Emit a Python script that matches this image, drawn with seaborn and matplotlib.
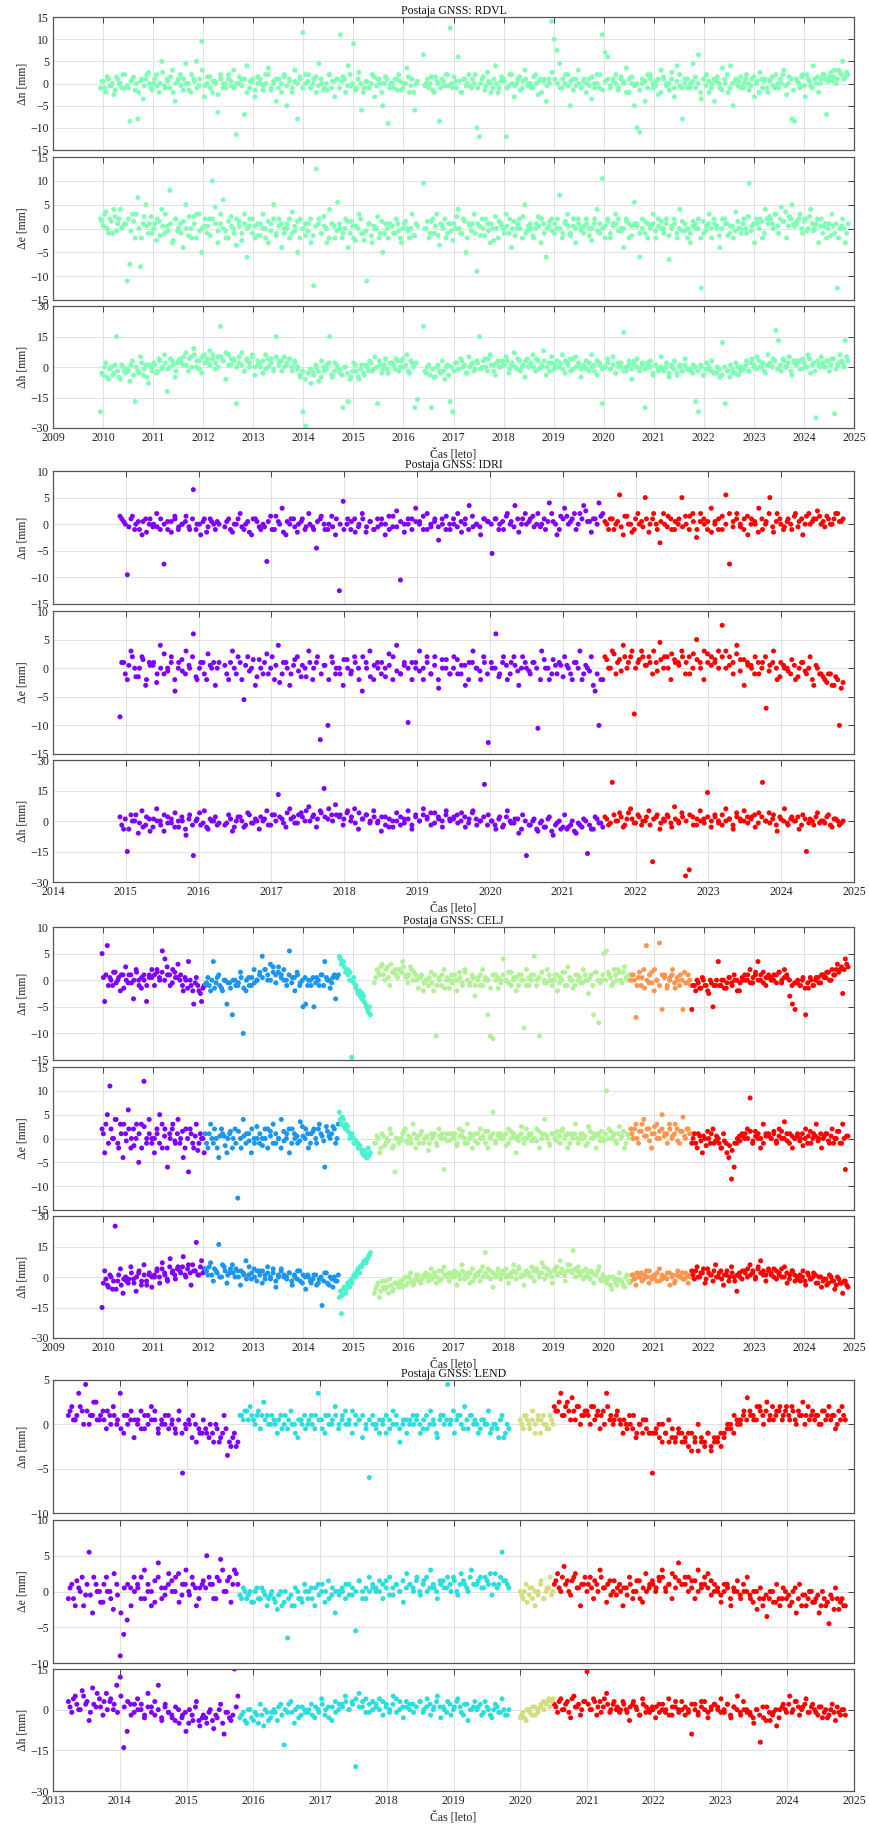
import numpy as np
import pandas as pd
import seaborn as sns
import matplotlib.pyplot as plt

# two epoch sets per segment (set 1 with outliers, set 2 core of the cloud)

# ---------------- RDVL ----------------
rdvl_spans = [(2009.95, 2016.28), (2016.40, 2024.88)]
rdvl_colors = ["#80FFB4", "#80FFB4"]
rdvl_years = (2009, 2025)
rdvl_ylims = [(-15, 15), (-15, 15), (-30, 30)]
rdvl_ysteps = [5, 5, 15]
rdvl_n = [
    [-1, 0.5, -2, 1, -0.5, -2.5, 1.5, 0, -1, 2,
     -0.5, -8.5, 1, -1.5, -8, 0.5, -3.5, 1, 2.5, -1,
     0, 2, -2, 5, -0.5, 1, -1, 3, -4, 0.5,
     2, -1.5, 4.5, 0, -2, 1, 5, -0.5, 9.5, -3,
     0, 1.5, -2, 0.5, -6.5, 2, -1, 0, 1, -0.5,
     3, -11.5, 0, 1, -7, 4, -1, 0.5, -3, 1.5,
     0, -1.5, 2, 3.5, -1, 0, -4, 1, -2, 2,
     -5, 0.5, -1, 3, -8, 1, 11.5, 0, 2, -1,
     1, -2, 4.5, 0, -1, -1.5, 2, 0.5, -3, 1,
     11, 1.5, -2, 4, -0.5, 9, -1, 2.5, -6, -1,
     0.5, -1, 2, -3, 1, 0, -5, 1.5, -9, 0,
     -1, 1, 2, -1.5, 0, 3.5, -2, 1, -6, 0.5],
    [6.5, 0, -1, 1.5, -2, 0.5, -8.5, 1, -0.5, 2,
     12.5, -1, 0.5, 6, -2, 1, -0.5, 2, -1, 0,
     -10, -12, 1, -1.5, 2.5, 0, -1, 4, -2, 0.5,
     1, -12, -0.5, 2, -3, 0, 1.5, -1, 3, -0.5,
     0, -1, 2, -2.5, 1, 0.5, -4, 1, 14, 10,
     7.5, 4.5, -1, 0, 2, -5, 1, -0.5, 3, -1,
     0.5, -2, 1, -3.5, 0, 2, -1, 11, 7, 6,
     -1, 0.5, 2, -1.5, 1, 0, 3.5, -2, 1.5, -5,
     -10, -11, 0, -4, 2, 1, -1, 0.5, -2.5, 3,
     1, 0, -1.5, 2.5, -3, 4, -0.5, -8, 1, -1,
     0, 4.5, -1, 6.5, -3.5, 1, 2, -2, 0, -4,
     1.5, -1, 3.5, 0, -2, 4, -5, 1, 0.5, -1,
     0, 2, -1.5, 1, -3, 0.5, 2.5, -1, 1, -2,
     1, -0.5, 2, -1, 0, 3, -2.5, 1.5, -8, -8.5,
     0.5, -1, 2, -3, 1, -0.5, 4, 0, -2, 1,
     2, -7, 1.5, 0.5, 3, 1, 2.5, 5, 1.5, 2],
]
rdvl_n2 = [
    [0.5, -1, 1.5, -0.5, 0, -1.5, 1, 0, 2, -1,
     -1, 0.5, 1.5, 0, -2, 1, -0.5, 2, 0, -1.5,
     1, -0.5, 0, 2.5, -1, 0.5, 1.5, -2, 0, 1,
     -0.5, 1, 0, -1.5, 2, 0.5, -1, 1, 3, -0.5,
     1.5, -1, 0.5, 0, -2.5, 1, 0, -1, 2, 0.5,
     -1, 0, 1.5, -0.5, 1, -2, 0.5, 1, -1.5, 0,
     1, -0.5, 0, 2, -1.5, 0.5, 1, -1, 0, 1.5,
     -0.5, 1, -2, 0.5, 0, 1.5, -1, 2, 0.5, -1,
     0, 1.5, -0.5, 1, -1.5, 0, 2, -1, 0.5, 1,
     -1, 0.5, 1, -0.5, 2, 0, -1.5, 1, 0, -2,
     0.5, -1, 0, 1.5, -0.5, 1, -2, 0, 1, -1,
     0, 1, -1.5, 0.5, -1, 0, 1.5, -0.5, -2, 0],
    [-0.5, 1, 0, -1.5, 1.5, 0, -1, 0.5, 2, -0.5,
     0, 1.5, -1, 0.5, -2, 1, 0, -0.5, 1, 2,
     -1, 0, 1.5, -0.5, 0.5, -2, 1, 0, -1, 1.5,
     0.5, -1, 2, 0, -0.5, 1, -1.5, 0.5, 1, 0,
     -1, 1.5, 0, 0.5, -2, 1, -0.5, 0, 2.5, 1,
     0, -1, 1, 2, -0.5, 0.5, -1.5, 1, 0, -1,
     1, 0, -0.5, 1.5, -1, 0, 2, -1.5, 0.5, 1,
     -0.5, 1, 0, -1, 1.5, 0.5, -2, 1, 0, -0.5,
     0, -1.5, 1, 0.5, -1, 2, 0, -0.5, 1, -2,
     1.5, -0.5, 0, 1, -1, 0.5, 2, -1, 0, 1,
     -1, 0.5, 1.5, 0, -2, 1, -0.5, 0.5, -1, 1,
     0.5, 0, -1.5, 1, 2, -1, 0, 0.5, -0.5, 1.5,
     -1, 1, 0, -0.5, 1.5, 0, -2, 1, 0.5, -1,
     0.5, 1.5, -1, 0, 1, 2, -0.5, 0, 1, -1.5,
     1, 0, 1.5, -0.5, 2, 0.5, -1, 1, 1.5, 0,
     2, 1, 0.5, 2.5, 1.5, 0, 3, 2, 1, 2.5],
]
rdvl_e = [
    [2, 0.5, 3.5, -1, 1.5, 4, -0.5, 2, 0, 1,
     -11, -7.5, 3, -2, 6.5, -8, 1, 5, -1, 2.5,
     0, -2.5, 1.5, 4, -1, 0.5, 8, -3, 2, -0.5,
     1, -4, 5, -1.5, 0, 2.5, -2, 3, -5, 0.5,
     -1, 2, 10, 4.5, -3, 1, 6, -0.5, -2, 2.5,
     0, -3.5, 1.5, -1, 3, -6, 0.5, 2, -2, 1,
     -1.5, 3, 0, -3, 1, 5, -1, 2, -4, 0,
     1, -2, 3.5, -0.5, -5, 2, 0, -1.5, 1, -3,
     -12, 12.5, 2, -1, 0.5, -3, 4, 1, -2, 5.5,
     0, -1, 2, -4, 1.5, -2, 0.5, 3, -1, -2.5,
     -11, 1, -3, 0, 2.5, -1, -5, 1, -2, 0.5,
     -1, 2, -0.5, -3, 1, 0, -2, 3, -1.5, 0.5],
    [9.5, 0, -2, 1.5, -1, 3, -3.5, 0.5, 2, -1,
     1, -2.5, 0, 4, -1, 2, -5, 1, -0.5, 3,
     -9, 0.5, 2, -1.5, 1, -3, 0, 2.5, -2, 1,
     0, 3, -1, -4, 1.5, 0, 2, -2, 5, -0.5,
     1, -1.5, 0, 2.5, -3, 1, -6, 0.5, 2, -1,
     0, 7, -2, 1, 3, -1, 0.5, -3, 2, 0,
     -1, 2, 0, -2.5, 1, 4, -1, 10.5, 0.5, 2,
     -2, 1, 3, -0.5, 0, -4, 2, 1, -1.5, 5.5,
     0.5, -6, 2, -1, 1, 0, 3, -2, 0.5, 1.5,
     -1, 2, -6.5, 0, 1, -2, 4, -0.5, 1, 0,
     -3, 1.5, 0, 2, -12.5, -1, 0.5, 3, -2, 1,
     0, -4, 2, 1, -1.5, 0.5, -2, 3.5, 0, -1,
     2, -1, 9.5, 0.5, -3, 1, 2, -2, 4, 1,
     2, 0, 3, -1, 4.5, 1.5, -2, 2.5, 5, 0.5,
     1.5, 3, -1, 2, 0, 4, -0.5, 1, -3, 2,
     0.5, -2, 1, 3, -1, -12.5, 0, 2, -3, 1],
]
rdvl_e2 = [
    [1.5, 3, 0, 2, -1, 2.5, 1, 4, 0.5, 1,
     2, -0.5, 1.5, 3, 0, -2, 2.5, 0.5, 1, -1,
     1, 2, -1.5, 0.5, 3, -0.5, 1, -2.5, 2, 0,
     -1, 1.5, 0, 2.5, -2, 1, 3, -0.5, 0, 2,
     0.5, -1.5, 2, 1, -0.5, 3, 0, -2, 1.5, 0.5,
     -1, 2, 0.5, -2.5, 1, 0, 2, -1, 0.5, -1.5,
     1, 0, -2, 1.5, -0.5, 2, -1.5, 0.5, 1, -1,
     0, 2, -1, 0.5, 1.5, -2, 0, 1, -0.5, 2,
     -1.5, 0.5, 1, -1, 2.5, 0, -2, 1, 0.5, -0.5,
     1, -2, 0, 1.5, -1, 0.5, -2.5, 0, 2, -1,
     -0.5, 1, -1.5, 0.5, 0, -2, 1.5, -1, 0, 1,
     0.5, -1, 1, -2, 0, 1.5, -0.5, 0, -1.5, 1],
    [0, 1.5, -1, 2, 0.5, -1.5, 1, 0, -2, 1,
     -0.5, 1, 2.5, 0, -1, 1.5, -2, 0.5, 1, -1,
     1, -1.5, 0, 2, -0.5, 1, -2.5, 0, 1.5, 0.5,
     -1, 0.5, 2, 0, -1.5, 1, 0, 2.5, -1, 0.5,
     0, -2, 1, 0.5, 2, -1, 0, 1.5, -0.5, 1,
     2, 0, -1, 1.5, 0.5, -1.5, 2, 0, 1, -0.5,
     0.5, 1, -1.5, 0, 2, -0.5, 1, 0, -2, 1.5,
     -1, 0.5, 1, 2, -0.5, 0, 1.5, -2, 0.5, 1,
     1, -1, 0, 1.5, -2, 0.5, 1, -0.5, 2, 0,
     0, 1, -1.5, 0.5, 2, -1, 0, 1.5, -0.5, -2,
     -1, 0.5, 1, 0, -2, 1.5, -0.5, 1, 0, 2,
     0.5, -1.5, 0, 2, 1, -1, 0.5, -0.5, 1.5, 0,
     1, 0, 2.5, -0.5, 1, 2, 0, 1.5, -1, 2,
     2.5, 1, 3, 0.5, 2, 1.5, 3.5, 0.5, 2, 1,
     1, 2, 0, 1.5, -0.5, 2.5, 1, 0, 2, 0.5,
     -1, 1, 0, -1.5, 0.5, 1, -2, 0.5, 0, -1],
]
rdvl_h = [
    [-22, -4, 2, -6, 0, -3, 15, -5, 1, -2,
     -1, -7, 3, -17, -2, 5, -4, 1, -8, 0,
     2, -3, 4, -1, 6, -12, 0, 3, -5, 2,
     4, 1, 7, -2, 5, 9, 0, 3, -3, 6,
     2, 8, 4, -1, 5, 20, 3, -6, 6, 1,
     4, -18, 2, 7, -2, 3, 0, 5, -4, 1,
     2, -3, 6, 0, 4, -1, 15, 3, -2, 5,
     1, 4, -2, 2, 0, -5, -22, -29, -3, -8,
     -4, 0, -7, 3, -2, 1, 15, -5, 2, -1,
     -3, -20, 0, -17, -5, 2, -2, -6, 1, -4,
     0, 3, -2, 5, -18, 1, -1, 4, -3, 2,
     1, 4, -2, 3, 0, 6, -3, 2, -20, -16],
    [20, -3, 1, -20, -5, 0, -2, 3, -6, 1,
     -17, -22, 2, -1, 4, 0, -3, 5, 1, -2,
     3, 15, 0, 4, -2, 6, 1, -4, 3, 0,
     2, 5, -3, 1, 7, -1, 3, 0, -5, 4,
     1, 6, -2, 3, 0, 8, -4, 2, 5, -1,
     3, 0, 6, -3, 2, 4, -1, 5, 1, -5,
     0, 3, -2, 6, 1, -4, 2, -18, 0, 4,
     -1, 5, -3, 2, 0, 17, -2, 3, -6, 1,
     4, -1, 2, -20, 0, 3, -4, 1, -2, 5,
     -1, 2, -5, 0, 3, -3, 1, -2, 4, -1,
     -2, 1, -17, -22, 0, -4, 2, -1, 3, -3,
     0, -5, 12, -18, -2, 1, -3, 2, -4, 0,
     -1, 3, -2, 4, 1, 5, 0, 2, -3, 6,
     1, 4, 18, 13, -2, 3, 0, 5, -4, 2,
     3, -1, 4, 0, 6, -3, 2, -25, 1, 5,
     0, 3, -2, 4, -23, 1, 6, 2, 13, 3],
]
rdvl_h2 = [
    [-3, 0, -5, -1, -4, 1, -2, -6, 0, -3,
     -2, 1, -4, 0, -3, 2, -1, -5, 1, -2,
     1, -2, 3, 0, 2, -1, 4, 1, -2, 3,
     2, 5, 1, 4, 0, 6, 3, -1, 5, 2,
     4, 1, 6, 2, 0, 5, 3, 7, 1, 4,
     3, 0, 5, 1, -2, 4, 2, 6, 0, 3,
     0, 3, -1, 4, 2, -2, 5, 1, 3, 0,
     2, 4, 0, 3, -1, -4, -2, -6, -3, -1,
     -3, 1, -2, -5, 0, -1, 2, -4, -2, 1,
     -1, -4, 0, -3, -6, -2, 1, -5, -1, -3,
     1, -2, 2, -1, 0, 3, -3, 1, -1, 2,
     2, -1, 3, 0, 4, 1, -2, 3, 0, 2],
    [-2, 0, -4, -1, -5, 1, -3, -2, 0, -4,
     0, -2, 2, -1, 3, 1, -3, 0, 2, -1,
     2, -1, 3, 0, 4, 1, -2, 2, 0, 3,
     1, 3, -1, 2, 0, 4, -2, 1, 3, 0,
     2, 0, 4, -1, 1, 3, 0, -2, 2, 1,
     0, 2, -1, 3, 1, -2, 4, 0, 2, -1,
     1, -1, 2, 0, -2, 3, 1, -1, 0, 2,
     -1, 1, -3, 0, 2, -2, 0, 1, -1, 3,
     0, -2, 1, -1, 2, 0, -3, 1, -1, 0,
     -2, 0, -3, 1, -1, -4, 0, -2, 1, -1,
     -1, -3, 0, -2, 1, -4, -1, 0, -2, -3,
     -3, -1, -4, 0, -2, -5, -1, -3, 0, -2,
     -1, 1, -2, 2, 0, -1, 3, 0, -2, 1,
     2, 0, 3, -1, 1, 4, 0, 2, -2, 3,
     1, 3, -1, 2, 0, 4, 1, -2, 3, 0,
     2, 0, 3, 1, 4, -1, 2, 3, 0, 5],
]

# ---------------- IDRI ----------------
idri_spans = [(2014.92, 2016.28), (2016.36, 2021.55), (2021.58, 2024.85)]
idri_colors = ["#8000FF", "#8000FF", "#FF0000"]
idri_years = (2014, 2025)
idri_ylims = [(-15, 10), (-15, 10), (-30, 30)]
idri_ysteps = [5, 5, 15]
idri_n = [
    [1.5, 0.5, -9.5, 1, -1, 0.5, -2, 1, 0, -0.5, 2, -1, -7.5, 0.5,
     -1.5, 1, -0.5, 0, 1.5, -1, 6.5, 0, -2, 1, -0.5, 0.5, -1, 0],
    [-0.5, 1, -1.5, 0, 2, -1, 0.5, -2, 1, -0.5,
     0, -7, 1.5, -1, 0.5, 3, -2, 0, 1, -1.5,
     0.5, -1, 2, -0.5, -4.5, 1, 0, -1, 1.5, -2,
     -12.5, 4.3, 0, -1, 1, -0.5, 2, -1.5, 0.5, -1,
     1, 0, -2, 1.5, -0.5, 2.5, -10.5, 0, 1, -1,
     3, 0.5, -1, 2, -0.5, 1, -3, 0, 1.5, -1,
     0, 2, -1.5, 1, 3.5, -0.5, 0, -2, 1, 0.5,
     -5.5, 1, 0, -1, 2, 0.5, 3.5, -1.5, 1, 0,
     1, -0.5, 2, 0, -1, 4, 0.5, -2, 1.5, 3,
     0, 1, -1, 2, 3.5, 0.5, -1.5, 1, 4, 2],
    [0.5, -1, 1, 0, 5.5, -2, 1.5, 0, -1, 2,
     0.5, 5, -1.5, 1, 0, -3.5, 2, -0.5, 1, -1,
     0, 5, 1.5, -1, 2, -2.5, 0.5, 1, -1, 3,
     0, -1, 1.5, 5.5, -7.5, 0.5, 2, -0.5, 1, -2,
     1, 0, 3, -1, 0.5, 5, -1.5, 2, 0, -0.5,
     1, -1, 2, 0.5, -2, 1.5, 0, 1, 2.5, 0,
     -0.5, 1, 0, 2, 0.5, 1],
]
idri_n2 = [
    [1, 0, -0.5, 1.5, 0, -1, 0.5, -1.5, 1, 0, -0.5, 1, 0, -1,
     0.5, 1.5, -1, 0, 0.5, -0.5, 1, -1, 0, 0.5, -1.5, 1, 0, 0.5],
    [0.5, -1, 0, 1, -0.5, 0, -1.5, 1, 0.5, -1,
     -0.5, 0.5, -1, 1.5, 0, -1.5, 0.5, 1, -0.5, 0,
     1, -0.5, 0, -1, 0.5, 1.5, -1, 0, -0.5, 1,
     0, -1, 1, 0.5, -1.5, 0, 1, -0.5, 0.5, -1,
     -0.5, 1, 0, -1, 1.5, -0.5, 0.5, -1.5, 0, 1,
     0.5, 0, 1.5, -1, 0, 0.5, -0.5, 1, -1, 0,
     1, -0.5, 0.5, 0, -1, 1.5, 0, -0.5, 1, 0.5,
     0, 1, -1, 0.5, 1.5, 0, -0.5, 1, 0, 2,
     0.5, 1.5, 0, -0.5, 1, 0.5, 2, 0, -1, 1,
     1.5, 0.5, 2, 0, 1, 2.5, 0.5, 1, 0, 1.5],
    [0, 1, -1, 0.5, -0.5, 1.5, 0, -1.5, 1, 0,
     -0.5, 1, 0, 2, -1, 0.5, 0, 1.5, -1, 0.5,
     1, -0.5, 0, 1.5, 0.5, -1, 2, 0, 0.5, -1.5,
     0.5, 1, -1, 0, 2, -0.5, 1, 0, -1, 1.5,
     0, 0.5, -1.5, 1, 0, 2, -0.5, 0.5, 1, -1,
     0.5, 0, 1.5, -0.5, 1, 0, 2, 0.5, 1, 1.5,
     0.5, 1.5, 0, 1, 2, 0.5],
]
idri_e = [
    [-8.5, 1, -2, 3, 0, -1.5, 2, -3, 1, 0.5, -2.5, 4, -1, 0,
     2, -4, 1, -0.5, 3, 0, 6, -2, 1, -1, 2.5, 0, -3, 1],
    [0.5, -2, 3, -1, 1, -5.5, 2, 0, -3, 1.5,
     -1, 2.5, 0, -2, 4, -1, 1, -3, 0.5, 2,
     -1.5, 0, 3, -2, 1, -12.5, 0.5, -10, 2, -1,
     0, -3, 1.5, -1, 2, 0, -4, 1, 3, -2,
     1, -1, 0, 2.5, -2, 4, -1, 0.5, -9.5, 1,
     0, 3, -2, 1, -1, 2, -3.5, 0, 1.5, -1,
     2, -1, 0.5, -3, 1, 3, 0, -2, 1, -13,
     0, 6, -1, 2, -2, 1, 0.5, -3, 2, 0,
     -1, 1, -10.5, 3, 0, -2, 1.5, -1, 0.5, 2,
     0, -2, 1, 3, -1, 0, 2, -4, -10, -2],
    [2, 0, 3, -1, 1.5, 4, 0, 2, -8, 1,
     3, 0.5, 2, -1, 1, 4.5, 0, 2, -2, 1.5,
     1, 3, -1, 2, 0, 5, 1, -2, 2.5, 0.5,
     1, 3, 7.5, 0, 2, -1, 4, 1.5, -3, 0.5,
     0, 2, -1, 1, -7, 0.5, 3, -2, 1, 0,
     -0.5, 1.5, -2, 0, 1, -1, 2, -3, 0, -1,
     -2, -1, -3, -1.5, -10, -2.5],
]
idri_e2 = [
    [1, -1, 0.5, 2, -1.5, 0, 1.5, -2, 0.5, 1, -1, 0, 2.5, -0.5,
     1, -2, 0, 1.5, -1, 0.5, 2, -1.5, 0, 1, -2, 0.5, 1, 0],
    [-1, 1, 0, 2, -2, 0.5, -0.5, 1.5, -1.5, 0,
     1, -1, 2, 0.5, -2.5, 1, 0, -1, 1.5, -0.5,
     0.5, -1.5, 1, 0, 2, -1, 0.5, -2, 1, 0,
     -1, 1.5, 0, -0.5, 1, -2, 2, 0, -1.5, 0.5,
     0, 1, -1.5, 0.5, 2, -0.5, -1, 1, 0, -2,
     1, -0.5, 0, 2, -1, 0.5, -2, 1.5, 0, -1,
     0, 1.5, -1, 0.5, -2, 1, 0, -0.5, 2, -1,
     1, 0, -1.5, 1, 0.5, -1, 2, -0.5, 0, 1,
     -0.5, 1, 0, -2, 1.5, 0, -1, 0.5, 1, -1.5,
     0.5, -1, 1, 0, -2, 0.5, -0.5, -3, -1, -2],
    [1.5, 0, 2.5, 1, -0.5, 2, 1, 3, 0, 1.5,
     2, 0.5, 1, 3, -0.5, 1.5, 2, 0, 2.5, 1,
     0.5, 2, 1, -1, 2.5, 1.5, 0, 3, 1, 2,
     1.5, 0, 2, 3, 0.5, 1, 2.5, -0.5, 1.5, 1,
     0.5, -1, 1, 0, 2, -0.5, 1, 0, -1.5, 0.5,
     0, -1, 0.5, -1.5, 1, -0.5, 0, -2, 0.5, -1,
     -1.5, -2.5, -1, -3, -2, -3.5],
]
idri_h = [
    [2, -4, -15, 3, 0, -6, 5, -2, 1, -3, 6, 0, -5, 2,
     -1, 4, -3, 0, -7, 3, -17, 1, -2, 5, -4, 0, 2, -1],
    [-2, 3, -5, 0, 2, -3, 4, -1, 1, -4,
     0, 5, -2, 3, 13, 1, -3, 6, 2, -1,
     4, 0, 7, 2, -3, 5, 16, 1, 3, 8,
     2, -2, 4, 0, 6, -4, 1, 3, -1, 5,
     -1, -5, 2, -3, 0, 4, -2, 1, 5, -4,
     3, 0, 6, 2, -2, 4, 1, -3, 5, 0,
     2, -1, 4, -3, 1, 5, -2, 0, 18, 3,
     0, -4, 2, -2, 5, -1, 1, -6, 3, -17,
     -2, 1, -5, 0, -3, 2, -7, -1, -4, 3,
     -3, 0, -6, -2, 1, -16, -4, 2, -1, -3],
    [2, -2, 19, 0, 4, -3, 1, 6, -1, 3,
     -2, 0, 5, -20, 2, -4, 1, 3, -1, 7,
     0, 4, -27, -24, 2, -2, 5, 1, 14, -3,
     3, 0, -2, 6, 1, -4, 2, 0, 5, -1,
     2, -3, 4, 19, 0, -1, 3, -5, 1, 6,
     -2, 2, 0, -4, 3, -15, 1, -2, 4, 0,
     -1, 3, -3, 1, -2, 0],
]
idri_h2 = [
    [-2, 1, -4, 0, 3, -1, -3, 2, -5, 1, 0, -2, 3, -1,
     1, -3, 0, 2, -4, 1, -2, 0, 4, -1, -3, 1, 0, -2],
    [-1, 1, -3, 2, 0, -2, 3, -1, 0, 2,
     1, -2, 3, 0, 2, -1, 4, 1, -1, 3,
     2, 5, 0, 3, 1, 4, 2, 6, 0, 3,
     3, 1, 5, 2, -1, 4, 1, 3, 0, 2,
     0, 2, -2, 1, -3, 0, 2, -1, 1, -2,
     2, 0, 3, 1, 4, -1, 2, 0, 3, 1,
     1, 3, 0, 2, -1, 4, 1, 0, 2, -2,
     0, -2, 1, -3, 2, 0, -1, 1, -4, 0,
     -2, 0, -4, -1, -3, 1, -5, -2, 0, -3,
     -4, -2, -5, -1, -3, 0, -2, -4, 1, -1],
    [1, -1, 3, 0, 2, -2, 4, 1, -1, 2,
     0, 2, -2, 1, 3, -1, 0, 2, -3, 1,
     -1, 2, 0, 3, -2, 1, 0, -1, 2, 0,
     2, -1, 3, 0, 1, -2, 4, 1, 0, 2,
     1, 3, -1, 2, 0, 4, 1, -2, 2, 0,
     -1, 1, 0, 2, -2, 1, -1, 0, 2, -1,
     0, 2, -2, 1, 0, -1],
]

# ---------------- CELJ ----------------
celj_spans = [(2009.98, 2012.02), (2012.04, 2014.70), (2014.72, 2015.34),
              (2015.42, 2020.52), (2020.54, 2021.74), (2021.76, 2024.88)]
celj_colors = ["#8000FF", "#1996F2", "#4CF2CE", "#B2F296", "#FF964F", "#FF0000"]
celj_years = (2009, 2025)
celj_ylims = [(-15, 10), (-15, 15), (-30, 30)]
celj_ysteps = [5, 5, 15]
celj_n = [
    [5, -4, 6.5, 0.5, -1, 1.5, 0, -2, 1, 2.5,
     -0.5, 1, -3.5, 2, 0, -1.5, 1, -4, 0.5, 2,
     -1, 1.5, 0, 5.5, 4, 1, -1, 2, 0.5, 3,
     1, -2, 0, 3.5, -1, -4.5, 0.5, -2, -4, -1],
    [-1, 0.5, -2, 3.5, -0.5, 1, -1.5, 0, -4.5, -0.5,
     -6.5, 0, -1, 1.5, -10, -2, 0.5, -1, 2, 0,
     1, 4.5, 2, 0, 3, 1.5, -0.5, 2.5, 1, 0,
     -1, 5.5, 0.5, -2, 1, -0.5, -5, -4.5, 0, -1,
     -5, 0.5, -1, 1, 3.5, 0, -1.5, 0.5, -3.5, 1],
    [4.5, 3, 3.5, 1.5, 2, 0, -14.5, 0.5, -1.5, -2, -3, -2.5, -4, -5, -6, -6.5],
    [-0.5, 2, 1, 3, 0, 2.5, -1, 1.5, 2, 0.5,
     2, 3.5, 1, -0.5, 2.5, 0, 1, -1.5, 0.5, -2,
     0, -1, 1.5, -2, -10.5, 0.5, -1, 2, 0, -1.5,
     1, 0, -2, 1.5, -0.5, 2, 0, -1, 1, -3,
     0.5, -1, 2, 0, -6.5, -10.5, -11, 1, -1.5, 0,
     4, 0, 1.5, -1, 0.5, -2, 1, 0, -9, 2,
     -1, 1, 4.5, 0, -10.5, 1.5, -0.5, 2, 0, -1,
     1, -2, 0.5, 1.5, -1, 2.5, 0, -1.5, 1, 0,
     -0.5, 2, 0, -2.5, 1, -6.5, 1.5, -8, 0, 5,
     5.5, 1, -1, 2, 0, 1.5, -0.5, 2.5, 0, 1],
    [0, 1, -7, 0.5, -1, 2, 6.5, -0.5, 1.5, -2, 0, 7,
     -5.5, 1, -1, 0.5, 2, -1.5, 0, 1, -5.5, -0.5, 1, -1],
    [-5.5, -1, 0, -1.5, 0.5, -1, -2, 0, -5, -1,
     3.5, -1, 0, -1.5, 0.5, -0.5, 1, 0, -2, 0.5,
     1, 0, 2, -0.5, 1, 3.5, 0, 1.5, -1, 0.5,
     0, 1, -0.5, 1.5, 0, 2, 0.5, -3, -4.5, -5.5,
     0, -1, 0.5, -6.5, -1.5, 0, -1, 0.5, -0.5, 1,
     0.5, 1.5, 0, 2, 1, 3, 2, -2.5, 4, 2.5],
]
celj_n2 = [
    [0.5, 1, -1, 0, 1.5, -0.5, 0.5, 1, -1.5, 0,
     1, -0.5, 0, 1.5, -1, 0.5, 0, -1, 1, 0.5,
     1, 2, 0.5, 1.5, 0, 2.5, 1, -0.5, 1.5, 0.5,
     0, -1, 0.5, -1.5, 0, -2, -0.5, -1, -2.5, -1.5],
    [-0.5, -1, 0, -1.5, 0.5, -1, -2, 0, -0.5, -1.5,
     0, -1, -0.5, 0.5, -1.5, 0, -1, 0.5, -0.5, 0,
     1.5, 0.5, 2, 1, 0, 2.5, 1, 1.5, 0.5, 2,
     0, 1, -0.5, 0.5, 1.5, -1, 0, 0.5, -1, 0,
     0.5, -0.5, 0, 1, -1, 0.5, 0, -0.5, 1, 0.5],
    [4, 3.5, 2.5, 2, 1, 1.5, 0, -0.5, -1, -2.5, -2, -3.5, -3, -4.5, -5.5, -5],
    [0.5, 1.5, 2.5, 1, 2, 0.5, 3, 1.5, 1, 2,
     1.5, 2.5, 0.5, 1, 2, 1.5, 0, 0.5, 1, -0.5,
     0, 0.5, -0.5, 1, -1, 0, 1, -1.5, 0.5, 0,
     -0.5, 1, 0, 0.5, -1, 1.5, 0, -0.5, 0.5, -1,
     0, 1, -1, 0.5, 0, -1.5, 1, 0, 0.5, -0.5,
     1, 0, -0.5, 1.5, 0, 0.5, -1, 1, 0, -1,
     0.5, 0, 1, -1, 0.5, 1.5, 0, -0.5, 1, 0,
     0, 1, -0.5, 0, 1.5, -1, 0.5, 0, -1, 1,
     0.5, -0.5, 1, 0, 0.5, -1, 1.5, 0, -0.5, 1,
     0, 1.5, 0.5, -0.5, 1, 2, 0, 1.5, 0.5, 1],
    [1, 0, -1, 1.5, 0.5, -1.5, 0, 1, -0.5, 2, 0, -1,
     1, 0.5, -1.5, 0, 1, -0.5, 0.5, -1, 0, 1.5, -0.5, 0],
    [-1, -2, -0.5, -1.5, 0, -1, -2.5, -0.5, -1, 0,
     -1, 0, -1.5, -0.5, 0.5, -1, 0, -2, -0.5, 0,
     0, 1, -0.5, 0.5, 1.5, 0, 1, -0.5, 0.5, 1,
     0.5, 0, 1, 1.5, -0.5, 0.5, 1, 0, -1, -0.5,
     -0.5, -1, 0, -1.5, -0.5, 0.5, -1, 0, 0.5, -0.5,
     1, 0.5, 1.5, 0, 1, 2, 1.5, 2.5, 2, 3],
]
celj_e = [
    [2, -3, 5, 11, 0, 4, -1, 3, -4, 1,
     6, -2, 2, 0, -5, 3, 12, -1, 4, 0,
     -3, 1, 5, -2, 2, -6, 0, 3, -1, 4,
     0, -4, 2, -7, 1, -2, 3, -1, 0, -3],
    [1, -2, 3, -1, 0, -4, 2, 0.5, -3, 1,
     -2, 2, -12.5, 0, 4, -1, 1, -3, 0, 2.5,
     -1, 0, 2, -2, 1.5, 3, -1, 0, 4, -0.5,
     1, -3, 2, 0, -1, 3.5, 0.5, 2, -2, 1,
     2, -1, 3, 0.5, -6, 1.5, 0, 2.5, -1, 3],
    [5.5, 3, 4, 2, 2.5, 0, 1, -1, -0.5, -2, -1.5, -3, -2.5, -4, -2, -3],
    [-1, 0.5, -3, 1, -1.5, 0, 2, -2, -7, 0,
     -0.5, 1, 2, -1, 0, 3, -2, 0.5, 1, -1,
     0, -2.5, 1, 0.5, -1, 2, 0, -6.5, 1, -0.5,
     1, 0, -1.5, 2, 0.5, -1, 3, 0, -2, 1,
     -1, 2, 0, 1.5, -2, 0.5, 5.5, -1, 1, 0,
     0.5, -1.5, 2, 0, 1, -3, 0.5, 2.5, -1, 0,
     1, -0.5, 0, 2, -2, 1, 4, 0, -1.5, 1,
     0, 1.5, -1, 2, 0.5, -2, 1, 0, 3, -1,
     1, 0, -1.5, 2.5, 0, 1, -2, 0.5, 1.5, -0.5,
     10, 2, 0, 1, -1, 2.5, 0.5, -2, 1, 0],
    [2, 0, 3, -1, 1.5, 4, 0.5, 2, -2, 1, 3, 0,
     5, 1, -1, 2, 0.5, 3, -0.5, 1.5, 4.5, 0, 2, 1],
    [-1, 1, -2, 0.5, -3, 0, 1.5, -1, 2, -0.5,
     0, -2, 1, -1, -4, -8.5, -6, -1, 0.5, 1,
     0, 2, 8.5, -1, 1.5, 0, -2, 3, 0.5, 1,
     0, 1.5, -1, 2, 0, 3.5, -0.5, 1, -2, 0,
     1, 0, -1.5, 2, 0.5, -1, 1, 3, 0, -2,
     0.5, 1, -1, 2, 0, 1.5, -1, 3, -6.5, 0.5],
]
celj_e2 = [
    [1, 3, -1, 2, 0, 4, -2, 1, 3, -0.5,
     2, 0, -1.5, 3, 1, -2, 2.5, 0, 1, -1,
     0, 2, -1, 3, 0.5, -2, 1, 2, -0.5, 1,
     -1, 1.5, -2, 0, 2, -1, 0.5, -2.5, 1, 0],
    [-1, 1, 0, 2, -2, 0.5, 1, -1.5, 0, 1.5,
     0, -1, 1.5, -2, 0.5, 1, -0.5, 2, -1, 0,
     1, -1.5, 0, 2, 0.5, -1, 1, 0, -2, 1.5,
     0, 2, -1, 1, 0.5, -0.5, 2.5, 0, 1, -1,
     1.5, 0, 2, 1, -0.5, 2.5, 0.5, 1, 2, 0],
    [4, 4.5, 2.5, 3, 1.5, 1, 0.5, 0, -1, -1, -2, -2.5, -3.5, -3, -4, -3.5],
    [-1, 0, -2, 0.5, -1, -0.5, 1, -1.5, 0, -1,
     0, 1.5, -0.5, 0.5, -1, 1, 0, -1, 1.5, 0,
     0.5, -1, 0, 1, -1.5, 0.5, 1, 0, -0.5, 1,
     0, 1, -1, 0.5, 1.5, 0, -1, 1, 0.5, -0.5,
     1, 0, 0.5, -1, 1.5, 0, 1, -0.5, 0.5, 1,
     0, 1, -1, 1.5, 0.5, 0, -0.5, 1, 0, 2,
     0.5, 1, 0, -0.5, 1.5, 0, 1, 0.5, -1, 1,
     1, -0.5, 0.5, 1.5, 0, 1, -1, 0.5, 1, 0,
     0, 1, 0.5, -1, 1.5, 0, 0.5, 1, -0.5, 0,
     1, 0, 1.5, 0.5, -0.5, 1, 0, 1.5, -1, 0.5],
    [1, 2, 0, 1.5, 3, 0.5, 2, -0.5, 1, 2.5, 0, 1.5,
     2, 0.5, 1, 3, 0, 1, 2, -1, 1.5, 0.5, 2, 1],
    [0, -1, 1, -0.5, 0.5, -1.5, 0, 1, -1, 0.5,
     -1, -2, -0.5, -3, -1.5, -2.5, -1, 0, -0.5, 0.5,
     1, 0, 1.5, -0.5, 0.5, 1, 0, -1, 1, 0.5,
     0, 1, -0.5, 0.5, 1.5, 0, 1, -1, 0.5, 0,
     0.5, -0.5, 1, 0, -1, 1.5, 0, 0.5, -0.5, 1,
     0, 1, -0.5, 0.5, -1, 0, 1.5, -1, 0, 0.5],
]
celj_h = [
    [-15, 3, -4, 1, -6, 25, -2, 4, -8, 0,
     -3, 5, -1, -7, 2, -4, 6, -2, 1, -5,
     0, 4, -3, 7, 1, -2, 9, 3, -1, 5,
     2, 10, 0, 6, -4, 3, 17, 1, 8, 4],
    [4, 1, 7, -2, 3, 16, 0, 5, -3, 2,
     6, 0, 3, -4, 2, 8, 1, -1, 4, -2,
     3, -3, 1, 5, -1, 2, -5, 0, 4, 1,
     -1, 2, -4, 0, 3, -2, 1, -6, 0, -3,
     1, -4, -1, -14, 2, -3, 0, -5, -2, 1],
    [-10, -18, -6, -8, -3, -5, -1, 0, 2, 3, 5, 6, 8, 7, 10, 12],
    [-8, -4, -10, -2, -6, -5, -1, -7, -3, -4,
     -2, -5, 0, -3, 2, -4, -1, 1, -3, 0,
     2, -2, 4, 0, -3, 3, -1, 5, 1, -2,
     0, 3, -4, 1, 6, -1, 2, -3, 4, 0,
     2, -2, 5, 12, 0, 3, -5, 1, 4, -1,
     3, 0, -3, 2, 6, -1, 4, 1, -4, 2,
     1, 5, -2, 3, 0, 7, -1, 4, 2, -3,
     4, 1, 8, 2, -2, 6, 3, 13, 0, 5,
     2, -1, 4, 0, 3, -3, 1, 5, -2, 0,
     -3, 0, -6, -1, -4, 2, -2, -5, 1, -3],
    [-2, 1, -4, 0, 2, -1, 3, -3, 0, 1, -2, 4,
     -1, 0, 2, -4, 1, -2, 3, 0, -1, 2, -3, 0],
    [3, -1, 5, 0, 2, -3, 4, 1, -2, 6,
     0, 3, -4, 1, -2, 5, 0, -7, 2, -1,
     3, 0, 6, 2, -1, 4, 8, 1, -2, 3,
     1, 4, -1, 2, 0, 5, -3, 1, 3, -2,
     0, -2, 3, -4, 1, -1, 2, -3, 0, -5,
     -1, -4, 1, -2, -6, 0, -3, -8, -2, -5],
]
celj_h2 = [
    [-3, -1, -5, 0, -2, -6, 1, -4, -1, -2,
     -1, 2, -3, 0, 3, -2, 1, -4, 2, 0,
     1, 3, 0, 4, 2, -1, 5, 2, 1, 4,
     3, 5, 1, 4, 2, 6, 3, 1, 5, 2],
    [3, 5, 1, 4, 2, 0, 6, 3, 1, 4,
     2, 4, 0, 3, 1, -1, 5, 2, 0, 3,
     1, 3, -1, 2, 0, 4, -2, 1, 3, 0,
     0, 2, -2, 1, -1, 3, -3, 0, 1, -2,
     -1, 1, -3, 0, -2, 2, -4, -1, 0, -2],
    [-7, -9, -5, -6, -4, -2, -3, 1, 0, 4, 2, 5, 7, 8, 9, 11],
    [-6, -3, -7, -5, -2, -8, -4, -6, -3, -5,
     -3, -1, -4, 0, -2, -3, 1, -2, -1, 1,
     0, 1, -1, 2, 0, -2, 3, 1, 0, 2,
     1, 0, 2, -1, 3, 1, 0, 2, -2, 1,
     1, 3, 0, 2, 4, -1, 2, 0, 3, 1,
     2, 4, 1, 0, 3, 2, 5, 0, 1, 3,
     2, 0, 3, 4, 1, 2, 5, 1, 3, 0,
     3, 5, 2, 4, 1, 3, 6, 2, 4, 3,
     1, 3, 0, 2, -1, 2, 1, 3, -1, 1,
     -2, -1, -4, 0, -3, -1, -2, -4, 0, -2],
    [1, -1, 2, 0, -2, 1, 0, 3, -1, 0, 2, -2,
     1, 0, -1, 2, 0, -3, 1, 0, 2, -1, 0, 1],
    [1, 3, 0, 2, 4, -1, 2, 1, 3, 0,
     2, -1, 1, 3, 0, 2, -2, 1, 0, 3,
     2, 4, 1, 3, 0, 5, 2, 3, 1, 4,
     2, 0, 3, 1, 4, 0, 2, -1, 3, 1,
     -1, 1, 0, -2, 2, -1, 0, 1, -3, 0,
     -2, -1, -3, 0, -2, -4, -1, -3, -2, -4],
]

# ---------------- LEND ----------------
lend_spans = [(2013.23, 2015.77), (2015.80, 2019.83), (2020.00, 2020.49), (2020.51, 2024.87)]
lend_colors = ["#8000FF", "#2BDDDD", "#D4DD80", "#FF0000"]
lend_years = (2013, 2025)
lend_ylims = [(-10, 5), (-10, 10), (-30, 15)]
lend_ysteps = [5, 5, 15]
lend_n = [
    [1, 2, 0.5, 3.5, 1.5, 4.5, 0, 1, 2.5, 0.5,
     1.5, -0.5, 1, 2, 0, 3.5, -1, 1, 0.5, -1.5,
     0, 1.5, -0.5, 1, 2, 0.5, -1, 0, 1, -0.5,
     0.5, -1, 1.5, -5.5, -0.5, 0, 1, -2, -1, 0.5,
     -1, 0, -2, -0.5, -1.5, 1, -3.5, -2.5, -1, -2],
    [1, 0.5, 1.5, 2, 0.5, 1, -0.5, 2.5, 1, 0,
     0.5, -1, 1, 0, -0.5, 1.5, 0, -1.5, 0.5, 1,
     0, 1, -0.5, 3.5, 0.5, -1, 1, 0, 2, -0.5,
     0.5, 1.5, 0, -1, 1, 0.5, -1.5, 0, -6, 1,
     0, -1, 0.5, 1, -0.5, 1.5, 0, -2, 0.5, -1,
     0.5, 0, 1, -1, 0.5, -0.5, 1.5, 0, -1.5, 1,
     0, 4.5, 0.5, -1, 1, 0, 2, -0.5, 1, 0.5,
     -1, 0.5, 0, 1.5, -0.5, 0, -1.5, 1, -1, -0.5],
    [0.5, -0.5, 1, 0, 0.5, -1, 1, 0.5, 0, -0.5, 1, 0],
    [2, 1.5, 3.5, 1, 2.5, 0.5, 1.5, 2, 0, 1,
     1.5, 0, 2, 1, -0.5, 1.5, 3.5, 0.5, 0, 1,
     0.5, -1, 0, 1, -0.5, -1.5, 0, -1, 0.5, -1,
     -5.5, -1, 0, -2, -1, 0.5, -1.5, -2, -0.5, -1,
     -2, -1, -3, -1.5, 0, -2, -2.5, -1, -3, -2,
     -1.5, -2.5, -1, 0, -0.5, 1, 0, 0.5, 1.5, 3,
     1, 0.5, 2, 1.5, 0, 2.5, 1, 0.5, 1.5, 2,
     1, 2, 0.5, 1.5, 0, 1, 2.5, 1, 0.5, 1.5,
     1, 0, 1.5, 0.5, 2, 1, -0.5, 1.5, 2, 0.5],
]
lend_n2 = [
    [1.5, 0.5, 1, 2, 0, 1.5, 1, 2.5, 0.5, 1,
     0.5, 1.5, 0, 1, 0.5, -0.5, 1, 0, 1.5, 0.5,
     0.5, -0.5, 1, 0, 0.5, 1.5, -0.5, 0.5, 0, 1,
     0, -0.5, 0.5, -1, 0, 0.5, -1.5, 0, -0.5, -1,
     -0.5, -1.5, -1, 0, -2, -1, -0.5, -2, -1.5, -2.5],
    [1, 1.5, 0.5, 1, 0, 1.5, 1, 0.5, 0, 1,
     0, 0.5, -0.5, 1, 0.5, 0, -1, 0.5, 0, -0.5,
     0.5, 0, 1, 0.5, -0.5, 1, 0, 0.5, 1, 0,
     1, 0, 0.5, 1.5, 0, 0.5, 1, -0.5, 0.5, 0,
     -0.5, 0.5, 0, -1, 0.5, 0, 1, -0.5, 0, 0.5,
     0, 1, 0.5, 0, -0.5, 1, 0, 0.5, -1, 0.5,
     1, 0.5, 0, 1.5, 0.5, 1, -0.5, 0.5, 1, 0,
     0, -0.5, 0.5, 0, -1, 0, -0.5, 0.5, -1.5, 0],
    [0, 1, 0.5, -0.5, 1.5, 0, 0.5, -1, 1, 0, -0.5, 0.5],
    [1.5, 2.5, 1, 2, 1.5, 3, 0.5, 2, 1, 1.5,
     1, 2, 0.5, 1.5, 1, 0, 2, 1, 0.5, 1.5,
     0, 0.5, -0.5, 0, 1, -1, 0, 0.5, -0.5, -1,
     -1, -0.5, -1.5, 0, -1, -2, -0.5, -1.5, -1, -2,
     -1.5, -2.5, -1, -2, -3, -1.5, -2, -1, -2.5, -1.5,
     -2, -1, -1.5, -0.5, 0, -1, 0.5, 0, 1, 0.5,
     1.5, 1, 0.5, 2, 1, 1.5, 0.5, 2, 1, 1.5,
     0.5, 1.5, 1, 2, 0.5, 1.5, 1, 0, 2, 1,
     0.5, 1, 0, 1.5, 1, 0.5, 1, 0, 0.5, 1],
]
lend_e = [
    [-1, 1, -2, 0.5, 2, -0.5, 5.5, -3, 1, 0,
     -1.5, 2, 0, -2.5, 1, -9, -6, -4, 0.5, 2,
     1, -1, 3, 0, -2, 1.5, 4, -1, 0.5, 2.5,
     0, 2, -1.5, 1, 3, -0.5, 1, -2, 0.5, 1.5,
     5, 1, -1, 2, 4.5, 0, 1.5, -1.5, 3, 1],
    [-0.5, 0.5, -1, 0, -1.5, 0.5, -1, 0, -2, -0.5,
     -1, -2.5, 0, -1.5, -6.5, -0.5, -2, 0, -1, 1,
     -1, 0.5, -2, 1, 0, -1.5, 1.5, -0.5, -3, 0,
     0.5, -1, 1, -0.5, -5.5, 1.5, 0, -1, 2, 0.5,
     0, 1.5, -1, 0.5, 2, -0.5, 1, 0, -1.5, 2.5,
     1, 0, 2, -0.5, 1.5, 0, 3, 0.5, -1, 1,
     0.5, 2, 0, 1.5, -0.5, 2.5, 1, 0, 3, 1,
     1.5, 0.5, 2, 1, -0.5, 2.5, 1, 5.5, 1.5, 0.5],
    [0, -1, 1, -0.5, 0.5, -2, 0, 1.5, -1, 0.5, 2, 0],
    [1, 2.5, 0, 3.5, 1.5, -0.5, 2, 0.5, -2, 1,
     0, 2, -1, 1, 3, 0.5, -1.5, 1.5, 0, -0.5,
     1, -2, 0.5, 2, -1, 0, 1.5, -1.5, 2.5, 0.5,
     1.5, 0, 2, 3, 0.5, 1, -1, 2, 4, 1,
     2, 0, 1.5, -1, 3, 0.5, 1, 2.5, -0.5, 1,
     0, -1.5, 1, 0.5, -2, 0, 1.5, -1, 0, 2,
     -1, 0, -2.5, 0.5, -1, -3.5, 0, -1.5, 1, -2,
     0.5, -1, -2, 0, -3, 1, -0.5, -2, 0, -1.5,
     -1, -3, 0, -2, -4.5, -1, 0.5, -2.5, -1, -2],
]
lend_e2 = [
    [0.5, -1, 1.5, 0, -2, 1, -0.5, 2, 0, -1.5,
     1, 0, -1, 2.5, -0.5, -3, 0.5, 1, -2, 0,
     0.5, 2, -1, 1, 0, -1.5, 2, 0.5, -0.5, 1,
     1.5, 0, 2.5, -0.5, 1, 0, 2, 0.5, -1, 1,
     0.5, 2, 1, -1, 1.5, 3, 0, 2, 1, 2.5],
    [-1, 0, -0.5, -1.5, 0, -1, 0.5, -0.5, -1, 0,
     -1.5, -0.5, -2, 0, -1, -2, 0.5, -1, -1.5, 0,
     0, -1, 0.5, -0.5, 1, 0, -1, 0.5, 0, -0.5,
     0, 1, -0.5, 0.5, 0, 1.5, -1, 0.5, 0, 1,
     0.5, 0, 1, 1.5, -0.5, 0.5, 1, 0, 1.5, 0.5,
     1, 0.5, 1.5, 0, 1, 2, 0.5, 1, 0, 1.5,
     1.5, 0.5, 1, 2, 0, 1, 1.5, 0.5, 2, 1,
     1, 2, 0.5, 1.5, 2.5, 1, 0.5, 2, 1.5, 1],
    [-0.5, 0, -1.5, 0.5, -1, 0, -0.5, 1, -1, 0, 0.5, -0.5],
    [1.5, 0.5, 2, 1, 0, 1.5, 2.5, 0.5, 1, 2,
     1, 0.5, 1.5, 0, 2, 0.5, 1, -0.5, 1.5, 0.5,
     0, 0.5, -0.5, 1, 0, 1.5, -1, 0.5, 0, 1,
     1, 0.5, 1.5, 2, 0, 1, 2.5, 0.5, 1.5, 1,
     1, 2, 0.5, 1.5, 0, 1, 2, 0.5, 1.5, 0,
     0.5, -0.5, 0, 1, -1, 0.5, 0, -0.5, 1, 0,
     -0.5, -1.5, 0, -1, -2, -0.5, -1, 0, -1.5, -1,
     -1, 0, -0.5, -1.5, 0.5, -1, -2, -0.5, -1, 0,
     -1.5, -0.5, -2, -1, -1.5, -0.5, -2.5, -1, -1.5, -2],
]
lend_h = [
    [3, -1, 5, 0, 7, 2, -4, 8, 1, 4,
     -2, 6, 3, 0, 9, 12, -14, -8, 2, -1,
     4, 0, -3, 6, 1, -2, 9, -4, 2, -1,
     -3, 1, -5, -2, -8, 0, -4, 3, -6, -2,
     -5, 0, -7, -3, 2, -9, -1, -4, 15, 5],
    [-3, -1, -5, 0, -4, -2, 2, -6, -1, -3,
     0, -4, 2, -13, -1, 3, -5, 1, -2, 0,
     -1, 2, -3, 0, 4, -2, 1, -4, 3, 0,
     2, 5, 0, 3, -21, 6, 1, 4, -1, 3,
     1, 4, -2, 2, 0, 5, -1, 3, -3, 1,
     2, -1, 16, 3, 0, 4, -2, 1, 5, -3,
     0, 3, -2, 1, 4, -1, 2, -4, 0, 3,
     1, -2, 3, 0, -3, 2, -1, 4, -2, 0],
    [-3, -1, -4, 0, -2, 1, -1, 2, 0, 3, 1, 4],
    [2, -1, 4, 0, 3, -3, 5, 1, -2, 3,
     14, 0, 4, -2, 3, 1, 6, -1, 2, 0,
     -1, 3, 0, -4, 2, 1, -2, 4, -1, 0,
     1, -3, 2, 0, -1, 4, -2, 1, 0, 3,
     -2, 0, -9, 2, -1, 3, 0, -3, 1, 2,
     0, 4, -1, 2, -3, 1, 5, -2, 0, -1,
     -2, -5, 0, -12, -3, 1, -4, -1, -6, 0,
     2, -1, 5, 0, 3, -2, 1, 4, -1, 2,
     -1, 1, -3, 0, -2, 2, -4, -1, 0, -2],
]
lend_h2 = [
    [1, 4, 2, 0, 5, 3, -1, 2, 6, 1,
     3, 0, 4, 2, -1, 5, 1, 3, -2, 2,
     0, 2, -2, 1, -1, 3, 0, -3, 1, -1,
     -2, -4, 0, -3, -1, -5, -2, 1, -4, -3,
     -3, -1, -4, -2, 0, -5, -1, -3, -2, 1],
    [-2, -4, 0, -3, -1, -5, -2, 0, -4, -1,
     -1, 1, -2, 0, 2, -1, 0, -3, 1, -1,
     0, -2, 1, -1, 2, 0, -3, 1, -1, 2,
     1, 3, 0, 2, 4, 1, 3, -1, 2, 0,
     2, 0, 3, 1, -1, 2, 4, 0, 1, 3,
     0, 2, 1, 3, -1, 1, 2, 0, 3, 1,
     1, -1, 2, 0, 3, 1, -2, 2, 0, 1,
     0, 2, -1, 1, -2, 0, 1, -1, 0, -2],
    [-2, -3, 0, -1, 1, -2, 0, 1, 3, 2, 4, 3],
    [1, 3, 0, 2, -1, 4, 1, 2, 0, 3,
     2, 0, 3, 1, -1, 4, 2, 0, 3, 1,
     0, 2, -1, 1, 3, 0, -2, 2, 1, -1,
     0, 1, -1, 2, 0, -2, 1, 3, -1, 0,
     1, -1, 2, 0, -2, 1, 3, -1, 0, 2,
     1, -1, 0, 2, -2, 1, 0, -1, 3, 0,
     -1, -3, 0, -2, 1, -4, -1, -2, 0, -3,
     1, 0, 2, -1, 3, 1, 0, 2, -1, 1,
     0, -2, 1, -1, -3, 0, -1, 1, -2, 0],
]

components = ["n", "e", "h"]
ylabels = ["Δn [mm]", "Δe [mm]", "Δh [mm]"]


def build_frame(spans, comp_sets):
    parts = []
    for comp, sets in zip(components, comp_sets):
        for j, lists in enumerate(sets):
            for k, (vals, (t0, t1)) in enumerate(zip(lists, spans)):
                n = len(vals)
                if j == 0:
                    t = np.linspace(t0, t1, n)
                else:
                    # second epoch set sits half-way between the first set's epochs
                    t = np.linspace(t0, t1, 2 * n + 1)[1::2]
                parts.append(pd.DataFrame({"t": t, "v": vals, "comp": comp, "seg": k}))
    return pd.concat(parts, ignore_index=True)


stations = [
    ("RDVL", rdvl_spans, rdvl_colors,
     [(rdvl_n, rdvl_n2), (rdvl_e, rdvl_e2), (rdvl_h, rdvl_h2)],
     rdvl_years, rdvl_ylims, rdvl_ysteps),
    ("IDRI", idri_spans, idri_colors,
     [(idri_n, idri_n2), (idri_e, idri_e2), (idri_h, idri_h2)],
     idri_years, idri_ylims, idri_ysteps),
    ("CELJ", celj_spans, celj_colors,
     [(celj_n, celj_n2), (celj_e, celj_e2), (celj_h, celj_h2)],
     celj_years, celj_ylims, celj_ysteps),
    ("LEND", lend_spans, lend_colors,
     [(lend_n, lend_n2), (lend_e, lend_e2), (lend_h, lend_h2)],
     lend_years, lend_ylims, lend_ysteps),
]

sns.set_theme(style="white")
plt.rcParams["font.family"] = ["Liberation Serif", "DejaVu Serif"]

W, H = 869, 1827
fig = plt.figure(figsize=(W / 100, H / 100), dpi=100)
block_tops = [17, 471, 927, 1380]
panel_geom = [(0, 133), (140, 143), (289, 122)]
left_px, width_px = 53, 801

for (name, spans, colors, comp_sets, years, ylims, ysteps), top in zip(stations, block_tops):
    df = build_frame(spans, comp_sets)
    palette = {k: c for k, c in enumerate(colors)}
    for p, comp in enumerate(components):
        off, hgt = panel_geom[p]
        y0 = 1 - (top + off + hgt) / H
        ax = fig.add_axes([left_px / W, y0, width_px / W, hgt / H])
        sub = df[df["comp"] == comp]
        sns.scatterplot(data=sub, x="t", y="v", hue="seg", palette=palette,
                        s=13, linewidth=0, alpha=1, legend=False, ax=ax)
        ax.set_xlim(*years)
        ax.set_ylim(*ylims[p])
        ax.set_xticks(range(years[0], years[1] + 1))
        ax.set_yticks(np.arange(ylims[p][0], ylims[p][1] + 0.1, ysteps[p]))
        ax.grid(True, color="#dddddd", linewidth=0.6)
        ax.set_axisbelow(True)
        for sp in ax.spines.values():
            sp.set_color("#555555")
            sp.set_linewidth(0.9)
        ax.tick_params(direction="in", top=True, right=True, length=4, width=0.7,
                       color="#444444", labelsize=8.5, labelcolor="#222222", pad=3)
        ax.set_ylabel(ylabels[p], fontsize=8.5, color="#222222")
        ax.yaxis.set_label_coords(-0.031, 0.5)
        if p == 0:
            ax.set_title("Postaja GNSS: " + name, fontsize=8.5, pad=2, color="#111111")
        if p == 2:
            ax.set_xlabel("Čas [leto]", fontsize=8.5, color="#222222")
            ax.xaxis.set_label_coords(0.5, -0.165)
        else:
            ax.set_xlabel("")
            ax.tick_params(labelbottom=False)

fig.savefig("out.png", dpi=100)
